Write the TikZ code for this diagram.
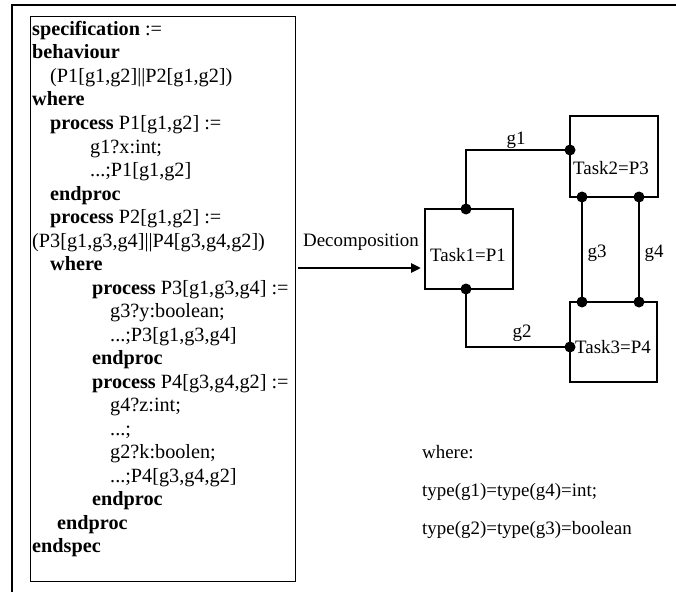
\documentclass[tikz,border=0pt]{standalone}
\usepackage{fontspec}
\setmainfont{Liberation Serif}
\usetikzlibrary{arrows.meta}
\begin{document}
\begin{tikzpicture}[x=1bp,y=-1bp,
  frame/.style={line width=1.5bp},
  taskbox/.style={draw,line width=1.3bp,inner sep=0pt},
  wire/.style={line width=1.3bp},
  dot/.style={circle,fill=black,inner sep=0pt,minimum size=11bp},
  lbl/.style={inner sep=0pt,font=\fontsize{19}{22}\selectfont},
  code/.style={inner sep=0pt,align=left,font=\fontsize{20.3}{23.6}\selectfont}]
\useasboundingbox (0,0) rectangle (676,592);
% outer frame (cropped)
\coordinate (ftl) at (12,5);
\coordinate (ftr) at (676,5);
\coordinate (fbl) at (12,592);
\draw[frame] (fbl) -- (ftl) -- (ftr);
% inner specification box
\node[draw,line width=1.3bp,minimum width=265bp,minimum height=565bp,inner sep=0pt,anchor=north west] (specbox) at (30,16) {};
\node[code,anchor=north west] (spec) at (32,21) {%
\textbf{specification} :=\\
\textbf{behaviour}\\
\hspace*{18bp}(P1[g1,g2]||P2[g1,g2])\\
\textbf{where}\\
\hspace*{18bp}\textbf{process} P1[g1,g2] :=\\
\hspace*{58bp}g1?x:int;\\
\hspace*{58bp}...;P1[g1,g2]\\
\hspace*{18bp}\textbf{endproc}\\
\hspace*{18bp}\textbf{process} P2[g1,g2] :=\\
(P3[g1,g3,g4]||P4[g3,g4,g2])\\
\hspace*{18bp}\textbf{where}\\
\hspace*{60bp}\textbf{process} P3[g1,g3,g4] :=\\
\hspace*{78bp}g3?y:boolean;\\
\hspace*{78bp}...;P3[g1,g3,g4]\\
\hspace*{60bp}\textbf{endproc}\\
\hspace*{60bp}\textbf{process} P4[g3,g4,g2] :=\\
\hspace*{78bp}g4?z:int;\\
\hspace*{78bp}...;\\
\hspace*{78bp}g2?k:boolen;\\
\hspace*{78bp}...;P4[g3,g4,g2]\\
\hspace*{60bp}\textbf{endproc}\\
\hspace*{25bp}\textbf{endproc}\\
\textbf{endspec}};
% tasks
\node[taskbox,minimum width=88bp,minimum height=80bp] (task1) at (469,249) {};
\node[taskbox,minimum width=88bp,minimum height=81bp] (task2) at (614,156.5) {};
\node[taskbox,minimum width=87bp,minimum height=80bp] (task3) at (613.5,342) {};
\node[lbl] (t1) at (468,255) {Task1=P1};
\node[lbl,anchor=west] (t2) at (573,168) {Task2=P3};
\node[lbl,anchor=west] (t3) at (575,347) {Task3=P4};
% ports
\coordinate (p1a) at (466,209);
\coordinate (p1b) at (466,289);
\coordinate (p2a) at (570,150);
\coordinate (p2b) at (582,197);
\coordinate (p2c) at (639,197);
\coordinate (p3a) at (582,302);
\coordinate (p3b) at (639,302);
\coordinate (p3c) at (570,347);
% connectors
\draw[wire] (p1a) |- (p2a);
\draw[wire] (p1b) |- (p3c);
\draw[wire] (p2b) -- (p3a);
\draw[wire] (p2c) -- (p3b);
\foreach \p in {p1a,p1b,p2a,p2b,p2c,p3a,p3b,p3c}
  \node[dot] (dot-\p) at (\p) {};
\node[lbl] (g1) at (516,140) {g1};
\node[lbl] (g2) at (522,333) {g2};
\node[lbl] (g3) at (597,253) {g3};
\node[lbl] (g4) at (654,253) {g4};
% decomposition arrow
\node[lbl] (dec) at (361,242) {Decomposition};
\coordinate (arrs) at (298,268);
\coordinate (arre) at (421,268);
\draw[line width=2.6bp,-{Triangle[length=10bp,width=9bp]}] (arrs) -- (arre);
% type notes
\node[lbl,anchor=west] (w0) at (422,452) {where:};
\node[lbl,anchor=west] (w1) at (422,492) {type(g1)=type(g4)=int;};
\node[lbl,anchor=west] (w2) at (422,530) {type(g2)=type(g3)=boolean};
\end{tikzpicture}
\end{document}
